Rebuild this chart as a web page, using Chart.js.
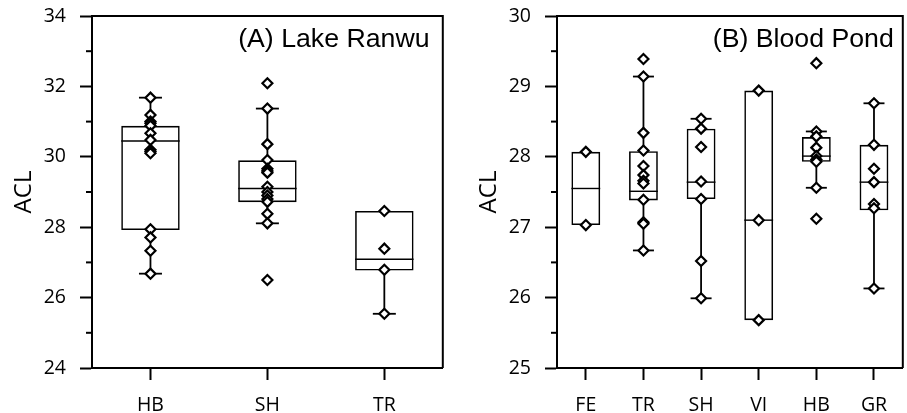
<!DOCTYPE html>
<html>
<head>
<meta charset="utf-8">
<script src="https://cdn.jsdelivr.net/npm/chart.js@4"></script>
<style>
html,body{margin:0;padding:0;background:#fff;overflow:hidden;width:907px;height:413px;}
#wa{position:absolute;left:0;top:0;width:450px;height:413px;}
#wb{position:absolute;left:450px;top:0;width:460px;height:413px;}
.fl{position:absolute;left:-1000px;top:0;visibility:hidden;}
</style>
</head>
<body>
<span class="fl" style="font-family:'Open Sans';font-size:19px">ACL 0123456789 HBSTRFEVIG</span>
<span class="fl" style="font-family:'Liberation Sans';font-size:26px">(A) Lake Ranwu</span>
<div id="wa"><canvas id="ca"></canvas></div>
<div id="wb"><canvas id="cb"></canvas></div>
<script>
// ---- Panel A: Lake Ranwu ----
const catsA = ['HB', 'SH', 'TR'];
const q1A = [27.92, 28.71, 26.77];
const medA = [30.45, 29.10, 27.09];
const q3A = [30.88, 29.90, 28.46];
const whiskLoA = [26.68, 28.11, 25.54];
const whiskHiA = [31.68, 31.37, 28.46];
const ptsA_HB = [31.68, 31.19, 31.00, 30.95, 30.88, 30.67, 30.48, 30.20, 30.15, 30.10, 27.94, 27.71, 27.33, 26.68];
const ptsA_SH = [32.09, 31.37, 30.36, 29.91, 29.66, 29.60, 29.55, 29.15, 29.00, 28.90, 28.80, 28.72, 28.38, 28.11, 26.50];
const ptsA_TR = [28.46, 27.39, 26.79, 25.54];
const yTicksA = {min: 24, max: 34, step: 1, labelEvery: 2};

// ---- Panel B: Blood Pond ----
const catsB = ['FE', 'TR', 'SH', 'VI', 'HB', 'GR'];
const q1B = [27.03, 27.38, 27.40, 25.68, 27.93, 27.24];
const medB = [27.55, 27.51, 27.64, 27.10, 28.01, 27.64];
const q3B = [28.07, 28.08, 28.40, 28.94, 28.28, 28.17];
const whiskLoB = [27.03, 26.67, 25.99, 25.68, 27.56, 26.13];
const whiskHiB = [28.07, 29.14, 28.54, 28.94, 28.36, 28.76];
const ptsB_FE = [28.07, 27.03];
const ptsB_TR = [29.39, 29.14, 28.34, 28.09, 27.87, 27.74, 27.66, 27.62, 27.39, 27.07, 27.05, 26.67];
const ptsB_SH = [28.54, 28.40, 28.14, 27.65, 27.40, 26.52, 25.99];
const ptsB_VI = [28.94, 27.10, 25.68];
const ptsB_HB = [29.33, 28.36, 28.29, 28.13, 28.01, 27.96, 27.93, 27.56, 27.12];
const ptsB_GR = [28.76, 28.17, 27.83, 27.64, 27.33, 27.27, 26.13];
const yTicksB = {min: 25, max: 30, step: 0.5, labelEvery: 1};

const yTitle = 'ACL';
const titleA = '(A) Lake Ranwu';
const titleB = '(B) Blood Pond';

const SANS = "'Open Sans', 'Noto Sans', sans-serif";
const TITLE_FONT = "'Liberation Sans', Arial, sans-serif";

function toPoints(cats, lists) {
  const out = [];
  cats.forEach((c, i) => lists[i].forEach(v => out.push({x: c, y: v})));
  return out;
}

function boxPlugin(med, lo, hi, q1, q3, capW, title, titleOffset) {
  return {
    id: 'boxExtras',
    beforeDatasetsDraw(chart) {
      const {ctx} = chart;
      const xs = chart.scales.x, ys = chart.scales.y;
      const meta = chart.getDatasetMeta(0);
      ctx.save();
      ctx.strokeStyle = '#000';
      ctx.lineCap = 'butt';
      med.forEach((m, i) => {
        const bar = meta.data[i];
        const half = bar.width / 2;
        const cx = xs.getPixelForValue(i);
        ctx.lineWidth = 1.4;
        const my = ys.getPixelForValue(m);
        ctx.beginPath(); ctx.moveTo(cx - half, my); ctx.lineTo(cx + half, my); ctx.stroke();
        ctx.lineWidth = 1.8;
        if (hi[i] > q3[i] + 1e-6) {
          const y0 = ys.getPixelForValue(q3[i]), y1 = ys.getPixelForValue(hi[i]);
          ctx.beginPath(); ctx.moveTo(cx, y0); ctx.lineTo(cx, y1); ctx.stroke();
          ctx.beginPath(); ctx.moveTo(cx - capW / 2, y1); ctx.lineTo(cx + capW / 2, y1); ctx.stroke();
        }
        if (lo[i] < q1[i] - 1e-6) {
          const y0 = ys.getPixelForValue(q1[i]), y1 = ys.getPixelForValue(lo[i]);
          ctx.beginPath(); ctx.moveTo(cx, y0); ctx.lineTo(cx, y1); ctx.stroke();
          ctx.beginPath(); ctx.moveTo(cx - capW / 2, y1); ctx.lineTo(cx + capW / 2, y1); ctx.stroke();
        }
      });
      ctx.restore();
    },
    afterDraw(chart) {
      const {ctx, chartArea} = chart;
      const ys = chart.scales.y;
      ctx.save();
      ctx.strokeStyle = '#000';
      ctx.lineWidth = 2;
      ctx.beginPath();
      ctx.moveTo(chartArea.left - 1, chartArea.top);
      ctx.lineTo(chartArea.right, chartArea.top);
      ctx.lineTo(chartArea.right, chartArea.bottom);
      ctx.stroke();
      ys.ticks.forEach(t => {
        if (!t.major) {
          const y = ys.getPixelForValue(t.value);
          ctx.beginPath(); ctx.moveTo(chartArea.left - 6, y); ctx.lineTo(chartArea.left, y); ctx.stroke();
        }
      });
      ctx.fillStyle = '#000';
      ctx.font = '26.7px ' + TITLE_FONT;
      ctx.textAlign = 'right';
      ctx.textBaseline = 'alphabetic';
      ctx.fillText(title, chartArea.right - titleOffset, chartArea.top + 30.7);
      ctx.restore();
    }
  };
}

function isMajor(v, every) {
  return Math.abs(v / every - Math.round(v / every)) < 1e-6;
}

function makeChart(id, cats, q1, med, q3, lo, hi, pts, yt, yWidth, padRight, titlePad, capW, title, titleOffset) {
  const tickFont = {family: SANS, size: 19.5};
  return new Chart(document.getElementById(id), {
    type: 'bar',
    data: {
      labels: cats,
      datasets: [
        {
          type: 'bar',
          data: cats.map((c, i) => [q1[i], q3[i]]),
          backgroundColor: 'rgba(255,255,255,0)',
          borderColor: '#000',
          borderWidth: 1.6,
          borderSkipped: false,
          barPercentage: 0.5,
          categoryPercentage: 1.0,
          order: 2
        },
        {
          type: 'scatter',
          data: toPoints(cats, pts),
          pointStyle: 'rectRot',
          pointRadius: 5,
          pointBorderWidth: 2.2,
          pointBackgroundColor: '#fff',
          pointBorderColor: '#000',
          showLine: false,
          order: 1
        }
      ]
    },
    options: {
      responsive: true,
      maintainAspectRatio: false,
      animation: false,
      events: [],
      layout: {padding: {top: 16, right: padRight, left: 0, bottom: 0}},
      plugins: {legend: {display: false}, tooltip: {enabled: false}, title: {display: false}},
      scales: {
        x: {
          type: 'category',
          offset: true,
          grid: {display: true, offset: false, drawOnChartArea: false, drawTicks: true, tickLength: 12, tickColor: '#000', tickWidth: 2},
          border: {display: true, color: '#000', width: 2},
          ticks: {color: '#000', font: tickFont, padding: 14, maxRotation: 0, autoSkip: false},
          afterFit: s => { s.height = 45; s.paddingLeft = 0; s.paddingRight = 0; }
        },
        y: {
          type: 'linear',
          min: yt.min, max: yt.max,
          grid: {
            display: true, drawOnChartArea: false, drawTicks: true, tickLength: 12, tickWidth: 2,
            tickColor: ctx => (ctx.tick && isMajor(ctx.tick.value, yt.labelEvery)) ? '#000' : 'rgba(0,0,0,0)'
          },
          border: {display: true, color: '#000', width: 2},
          ticks: {
            stepSize: yt.step,
            color: '#000', font: tickFont, padding: 14,
            callback: v => isMajor(v, yt.labelEvery) ? String(v) : ''
          },
          afterBuildTicks: s => { s.ticks.forEach(t => { t.major = isMajor(t.value, yt.labelEvery); }); },
          title: {display: true, text: yTitle, color: '#000', font: {family: SANS, size: 24}, padding: {top: titlePad, bottom: 0}},
          afterFit: s => { s.width = yWidth; s.paddingTop = 0; s.paddingBottom = 0; }
        }
      }
    },
    plugins: [boxPlugin(med, lo, hi, q1, q3, capW, title, titleOffset)]
  });
}

const charts = [];
function build() {
  charts.forEach(c => c.destroy());
  charts.length = 0;
  charts.push(makeChart('ca', catsA, q1A, medA, q3A, whiskLoA, whiskHiA, [ptsA_HB, ptsA_SH, ptsA_TR], yTicksA, 92, 5, 10, 23, titleA, 13.3));
  charts.push(makeChart('cb', catsB, q1B, medB, q3B, whiskLoB, whiskHiB, [ptsB_FE, ptsB_TR, ptsB_SH, ptsB_VI, ptsB_HB, ptsB_GR], yTicksB, 107, 1, 25, 21, titleB, 9));
}
build();
Promise.all([
  document.fonts.load("19px 'Open Sans'"),
  document.fonts.load("24px 'Open Sans'"),
  document.fonts.load("26.7px 'Liberation Sans'")
]).then(build).catch(() => {});
</script>
</body>
</html>
